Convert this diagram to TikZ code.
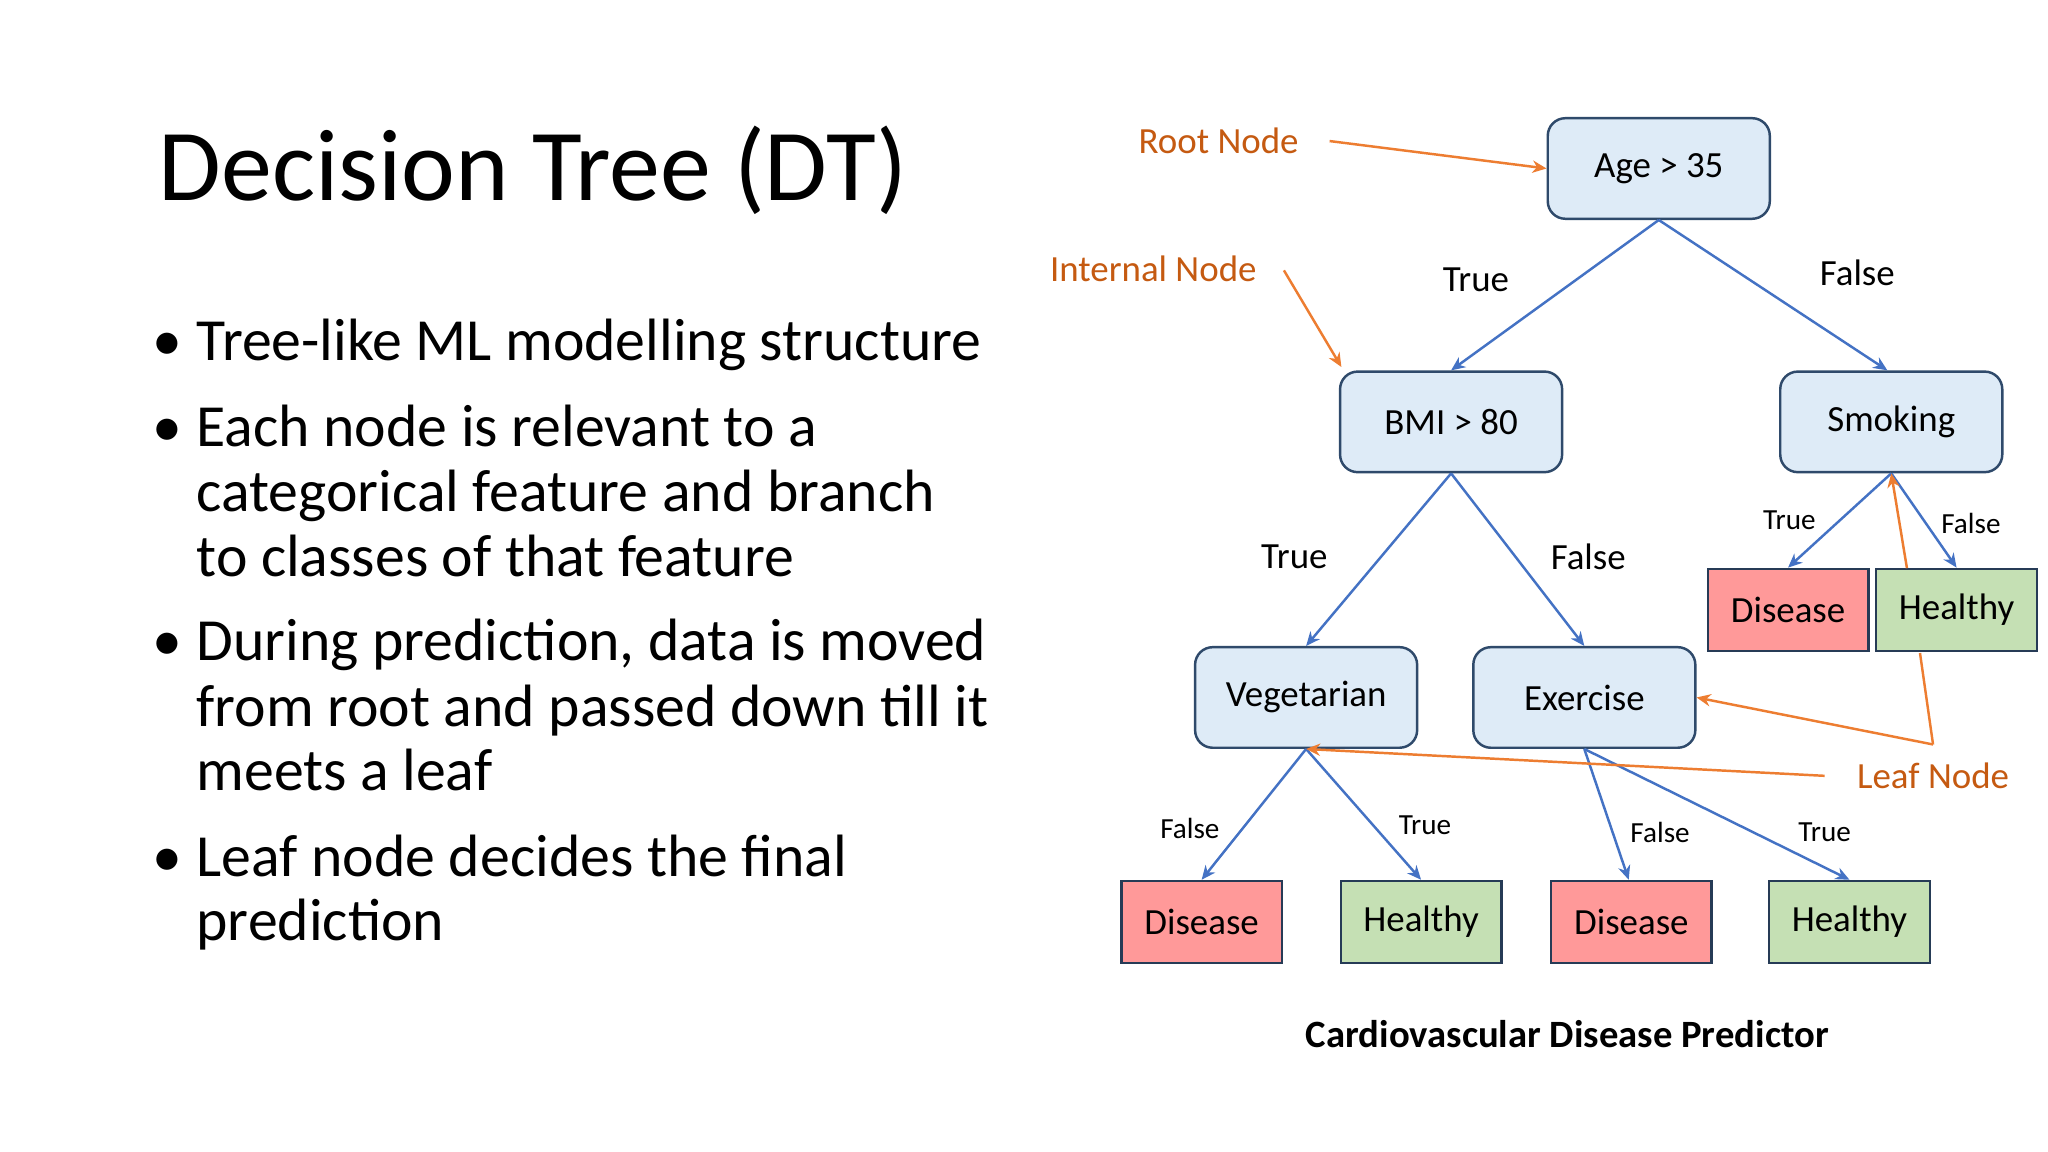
\documentclass[tikz,border=0pt]{standalone}
\usepackage{fontspec}
\setmainfont{Carlito}
\usetikzlibrary{arrows.meta}
\definecolor{bfill}{HTML}{DEEBF7}
\definecolor{bdraw}{HTML}{2F4A6B}
\definecolor{dis}{HTML}{FF9999}
\definecolor{hea}{HTML}{C5E0B4}
\definecolor{edge}{HTML}{4472C4}
\definecolor{otext}{HTML}{C55A11}
\definecolor{oline}{HTML}{ED7D31}
\begin{document}
\begin{tikzpicture}[x=0.01306cm,y=-0.01306cm,
  dn/.style={draw=bdraw,fill=bfill,rounded corners=5pt,minimum width=170*0.01306cm,minimum height=77*0.01306cm,font=\fontsize{10.5}{12}\selectfont,line width=0.7pt},
  lf/.style={draw=bdraw!80!black,minimum width=123*0.01306cm,minimum height=63*0.01306cm,font=\fontsize{10.5}{12}\selectfont,line width=0.7pt},
  e/.style={draw=edge,line width=0.7pt,-{Stealth[length=4pt,width=3.5pt]}},
  o/.style={draw=oline,line width=0.7pt,-{Stealth[length=4pt,width=3.5pt]}},
  ol/.style={draw=oline,line width=0.7pt},
  bl/.style={font=\fontsize{10.5}{12}\selectfont},
  sl/.style={font=\fontsize{8.3}{10}\selectfont},
  ot/.style={text=otext,font=\fontsize{10.5}{12}\selectfont},
  bt/.style={anchor=base west,inner sep=0pt,font=\fontsize{17}{21}\selectfont}]
\useasboundingbox (0,0) rectangle (1568,882);
\fill[white] (0,0) rectangle (1568,882);
\node[anchor=west,inner sep=0pt,font=\fontsize{29}{34}\selectfont] (title) at (121,130) {Decision Tree (DT)};
\foreach \y/\t [count=\i] in {264/{Tree-like ML modelling structure},330/{Each node is relevant to a},380/{categorical feature and branch},429/{to classes of that feature},494/{During prediction, data is moved},544/{from root and passed down till it},593/{meets a leaf},659/{Leaf node decides the final},708/{prediction}}
  \node[bt] (b\i) at (150,\y+12) {\t};
\foreach \y [count=\i] in {264,330,494,659}
  \node[anchor=base,inner sep=0pt,font=\fontsize{17}{21}\selectfont] (d\i) at (128,\y+12) {•};
\node[dn] (age) at (1270,129) {Age > 35};
\node[dn] (bmi) at (1111,323) {BMI > 80};
\node[dn] (smk) at (1448,323) {Smoking};
\node[dn] (veg) at (1000,534) {Vegetarian};
\node[dn] (exe) at (1213,534) {Exercise};
\node[lf,fill=dis] (d1) at (1369,467) {Disease};
\node[lf,fill=hea] (h1) at (1498,467) {Healthy};
\node[lf,fill=dis] (d2) at (920,706) {Disease};
\node[lf,fill=hea] (h2) at (1088,706) {Healthy};
\node[lf,fill=dis] (d3) at (1249,706) {Disease};
\node[lf,fill=hea] (h3) at (1416,706) {Healthy};
\draw[e] (age.south) -- (bmi.north);
\draw[e] (age.south) -- ([xshift=-3*0.01306cm]smk.north);
\draw[e] (bmi.south) -- (veg.north);
\draw[e] (bmi.south) -- (exe.north);
\draw[e] (smk.south) -- (d1.north);
\draw[e] (smk.south) -- (h1.north);
\draw[e] (veg.south) -- (d2.north);
\draw[e] (veg.south) -- (h2.north);
\draw[e] (exe.south) -- ([xshift=-2*0.01306cm]d3.north);
\draw[e] (exe.south) -- (h3.north);
\node[bl] (t1) at (1130,214) {True};
\node[bl] (f1) at (1422,209) {False};
\node[bl] (t2) at (991,426) {True};
\node[bl] (f2) at (1216,426) {False};
\node[sl] (t3) at (1370,398) {True};
\node[sl] (f3) at (1509,401) {False};
\node[sl] (f4) at (911,634) {False};
\node[sl] (t4) at (1091,632) {True};
\node[sl] (f5) at (1271,637) {False};
\node[sl] (t5) at (1397,637) {True};
\node[ot] (root) at (933,108) {Root Node};
\node[ot] (int) at (883,206) {Internal Node};
\node[ot] (leaf) at (1480,594) {Leaf Node};
\coordinate (r1) at (1018,108);
\coordinate (i1) at (983,207);
\coordinate (k) at (1480,570);
\coordinate (l1) at (1397,594);
\coordinate (hb) at (1470,500);
\coordinate (ht) at (1460,435);
\draw[o] (r1) -- (age.west);
\draw[o] (i1) -- (1027,281);
\draw[o] (l1) -- (veg.south);
\draw[o] (k) -- (exe.east);
\draw[ol] (k) -- (hb);
\draw[o] (ht) -- (smk.south);
\node[font=\bfseries\fontsize{11}{13}\selectfont] (cap) at (1200,792) {Cardiovascular Disease Predictor};
\end{tikzpicture}
\end{document}
